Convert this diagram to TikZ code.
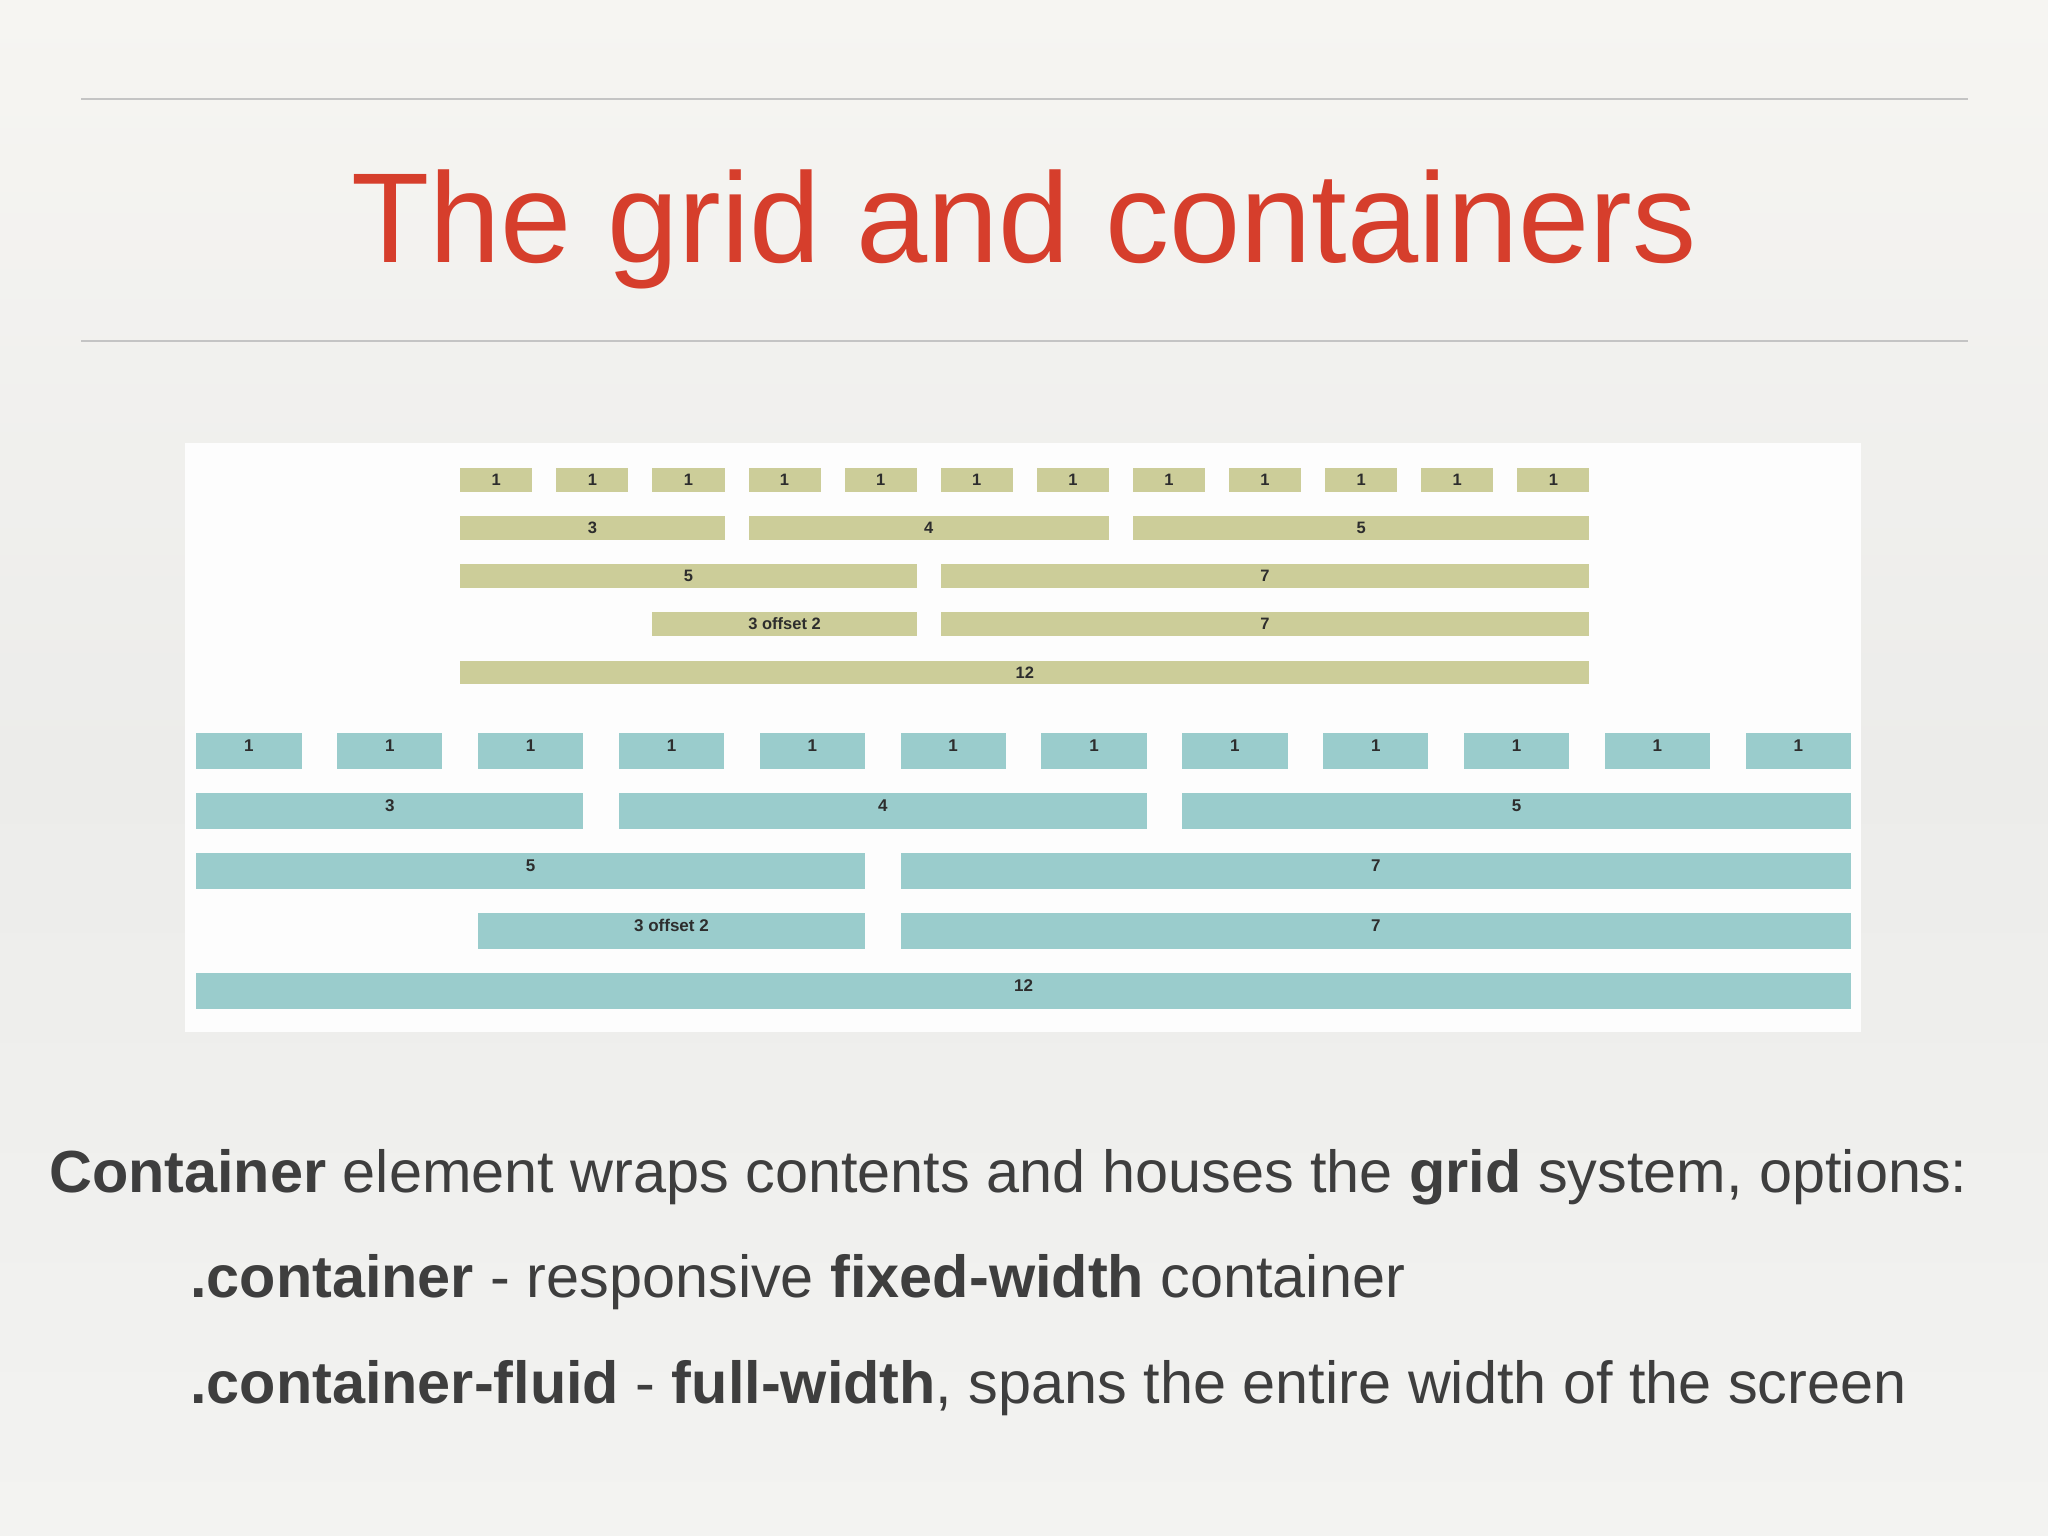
\documentclass[tikz,border=0pt]{standalone}
\usepackage{fontspec}
\setmainfont{Liberation Sans}
\definecolor{bgtop}{RGB}{246,245,242}
\definecolor{bgmid}{RGB}{236,236,234}
\definecolor{bgbot}{RGB}{243,243,241}
\definecolor{rulec}{RGB}{196,196,196}
\definecolor{titlec}{RGB}{214,62,44}
\definecolor{bodyc}{RGB}{62,62,62}
\definecolor{olivec}{RGB}{204,205,153}
\definecolor{tealc}{RGB}{154,204,204}
\definecolor{labelc}{RGB}{45,45,45}
\definecolor{panelc}{RGB}{253,253,253}
\newcommand\oliveBar[5]{\node[obar, minimum width={#4*96.1-24}] (#1) at ({460+(#3-1)*96.1},{467.8+(#2-1)*48.15}) {#5};}
\newcommand\tealBar[5]{\node[tbar, minimum width={#4*140.85-35.6}] (#1) at ({196.1+(#3-1)*140.85},{732.7+(#2-1)*60.1}) {#5};}
\begin{document}
\begin{tikzpicture}[x=1pt,y=-1pt,
  rulestyle/.style={draw=rulec, line width=1.5pt},
  titlestyle/.style={inner sep=0pt, text=titlec, font=\fontsize{128}{130}\selectfont},
  bodystyle/.style={inner sep=0pt, text=bodyc, anchor=base west, font=\fontsize{59.4}{70}\selectfont},
  panelstyle/.style={fill=panelc, inner sep=0pt, anchor=north west, minimum width=1676, minimum height=589},
  obar/.style={rectangle, fill=olivec, inner sep=0pt, anchor=north west, minimum height=23.5,
     text height=11.5, text depth=0, text=labelc, font=\fontsize{16.5}{17}\selectfont\bfseries},
  tbar/.style={rectangle, fill=tealc, inner sep=0pt, anchor=north west, minimum height=35.6,
     text height=18.5, text depth=17.1, text=labelc, font=\fontsize{17}{18}\selectfont\bfseries}]
\useasboundingbox (0,0) rectangle (2048,1536);
\shade[top color=bgtop, bottom color=bgbot, middle color=bgmid] (0,0) rectangle (2048,1536);
% rules
\draw[rulestyle] (81,99) -- (1968,99);
\draw[rulestyle] (81,341) -- (1968,341);
% title
\node[titlestyle, anchor=base] (title) at (1024,262) {The grid and containers};
% panel
\node[panelstyle] (panel) at (185,443) {};
% olive (fixed-width container) grid
\foreach \i in {1,...,12} {\oliveBar{o1-\i}{1}{\i}{1}{1}}
\oliveBar{o2-1}{2}{1}{3}{3}
\oliveBar{o2-2}{2}{4}{4}{4}
\oliveBar{o2-3}{2}{8}{5}{5}
\oliveBar{o3-1}{3}{1}{5}{5}
\oliveBar{o3-2}{3}{6}{7}{7}
\oliveBar{o4-1}{4}{3}{3}{3 offset 2}
\oliveBar{o4-2}{4}{6}{7}{7}
\oliveBar{o5-1}{5}{1}{12}{12}
% teal (fluid container) grid
\foreach \i in {1,...,12} {\tealBar{t1-\i}{1}{\i}{1}{1}}
\tealBar{t2-1}{2}{1}{3}{3}
\tealBar{t2-2}{2}{4}{4}{4}
\tealBar{t2-3}{2}{8}{5}{5}
\tealBar{t3-1}{3}{1}{5}{5}
\tealBar{t3-2}{3}{6}{7}{7}
\tealBar{t4-1}{4}{3}{3}{3 offset 2}
\tealBar{t4-2}{4}{6}{7}{7}
\tealBar{t5-1}{5}{1}{12}{12}
% body text
\node[bodystyle] (line1) at (49,1192.7) {\textbf{Container} element wraps contents and houses the \textbf{grid} system, options:};
\node[bodystyle] (line2) at (190,1297.3) {\textbf{.container} - responsive \textbf{fixed-width} container};
\node[bodystyle] (line3) at (190,1403.3) {\textbf{.container-fluid} - \textbf{full-width}, spans the entire width of the screen};
\end{tikzpicture}
\end{document}
